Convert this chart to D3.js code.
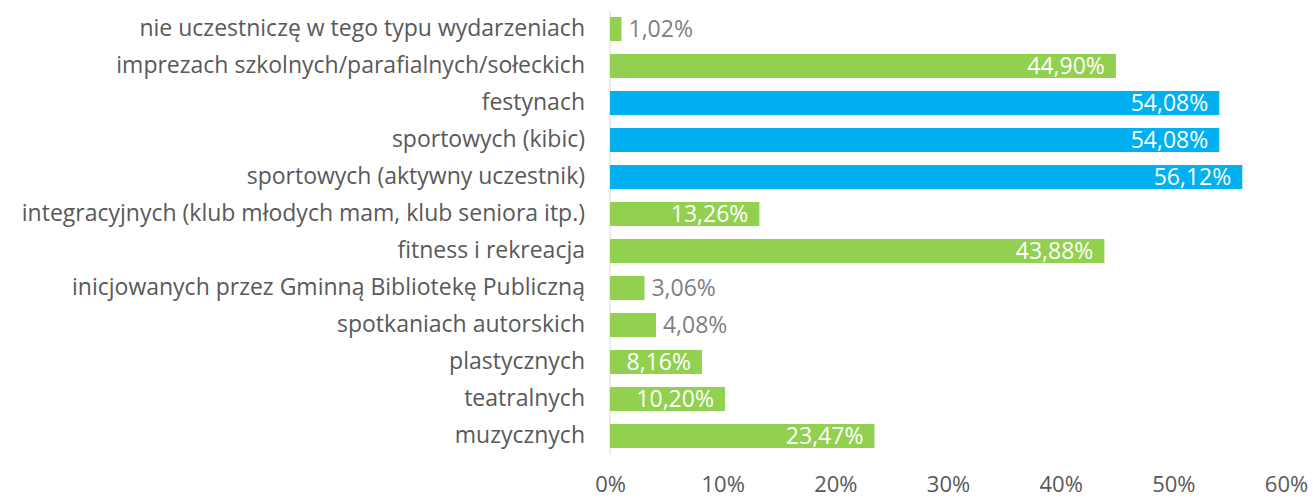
<!DOCTYPE html>
<html>
<head>
<meta charset="utf-8">
<script src="https://cdn.jsdelivr.net/npm/d3@7"></script>
<style>
  body { margin: 0; background: #fff; }
  svg text { font-family: "Open Sans", "Noto Sans", sans-serif; }
</style>
</head>
<body>
<div id="chart"></div>
<script>
// kategorie od gory do dolu
var categories = [
  "nie uczestniczę w tego typu wydarzeniach",
  "imprezach szkolnych/parafialnych/sołeckich",
  "festynach",
  "sportowych (kibic)",
  "sportowych (aktywny uczestnik)",
  "integracyjnych (klub młodych mam, klub seniora itp.)",
  "fitness i rekreacja",
  "inicjowanych przez Gminną Bibliotekę Publiczną",
  "spotkaniach autorskich",
  "plastycznych",
  "teatralnych",
  "muzycznych"
];
var values = [1.02, 44.90, 54.08, 54.08, 56.12, 13.26, 43.88, 3.06, 4.08, 8.16, 10.20, 23.47];
var highlighted = [false, false, true, true, true, false, false, false, false, false, false, false];
var tickValues = [0, 10, 20, 30, 40, 50, 60];

var width = 1313, height = 500;
var margin = {left: 610, right: 27, top: 10.5, bottom: 45.5};

var svg = d3.select("#chart").append("svg")
    .attr("width", width)
    .attr("height", height);

var x = d3.scaleLinear().domain([0, 60]).range([margin.left, width - margin.right]);
var y = d3.scaleBand().domain(categories).range([margin.top, height - margin.bottom]).paddingInner(0.35).paddingOuter(0.175);

function fmt(v) { return v.toFixed(2).replace(".", ",") + "%"; }

// os pionowa (linia)
svg.append("line")
    .attr("x1", x(0)).attr("x2", x(0))
    .attr("y1", margin.top).attr("y2", height - margin.bottom)
    .attr("stroke", "#d9d9d9")
    .attr("stroke-width", 1);

// etykiety kategorii
var yAxis = svg.append("g")
    .attr("transform", "translate(" + (x(0) - 8) + ",0)")
    .call(d3.axisLeft(y).tickSize(0).tickPadding(17));
yAxis.select(".domain").remove();
yAxis.selectAll("text")
    .attr("font-family", "Open Sans, Noto Sans, sans-serif")
    .attr("font-size", 23)
    .attr("fill", "#595959");

// os pozioma
var xAxis = svg.append("g")
    .attr("transform", "translate(0," + (height - margin.bottom) + ")")
    .call(d3.axisBottom(x).tickValues(tickValues).tickSize(0).tickPadding(22).tickFormat(function(d){ return d + "%"; }));
xAxis.select(".domain").remove();
xAxis.selectAll("text")
    .attr("font-family", "Open Sans, Noto Sans, sans-serif")
    .attr("font-size", 22)
    .attr("fill", "#595959");

var data = categories.map(function(c, i){ return {name: c, value: values[i], hi: highlighted[i]}; });

var bars = svg.append("g").selectAll("rect")
    .data(data)
    .enter()
    .append("rect")
    .attr("x", x(0))
    .attr("y", function(d){ return y(d.name); })
    .attr("width", function(d){ return x(d.value) - x(0); })
    .attr("height", y.bandwidth())
    .attr("fill", function(d){ return d.hi ? "#00b0f0" : "#92d050"; });

// etykiety wartosci
var labels = svg.append("g").selectAll("text")
    .data(data)
    .enter()
    .append("text")
    .attr("y", function(d){ return y(d.name) + y.bandwidth() / 2; })
    .attr("dy", "0.36em")
    .attr("font-size", 23)
    .text(function(d){ return fmt(d.value); });

labels.each(function(d){
    var t = d3.select(this);
    var w = this.getComputedTextLength();
    var barW = x(d.value) - x(0);
    if (w + 6 <= barW) {
        t.attr("x", x(d.value) - 11).attr("text-anchor", "end").attr("fill", "#ffffff");
    } else {
        t.attr("x", x(d.value) + 7).attr("text-anchor", "start").attr("fill", "#7f7f7f");
    }
});
</script>
</body>
</html>
